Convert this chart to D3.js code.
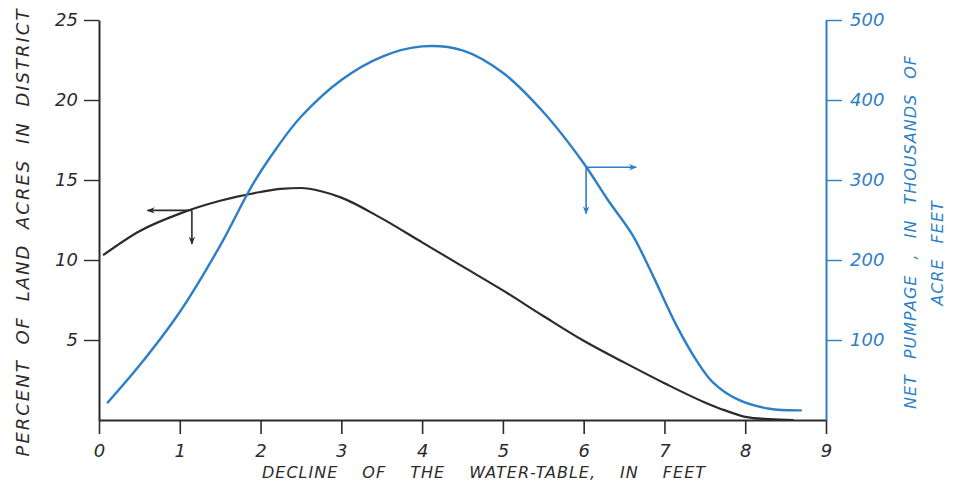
<!DOCTYPE html>
<html>
<head>
<meta charset="utf-8">
<script src="https://cdn.jsdelivr.net/npm/d3@7"></script>
<style>
  body { margin: 0; background: #fff; }
  svg { display: block; }
  text { font-family: "DejaVu Sans", sans-serif; font-style: italic; }
</style>
</head>
<body>
<div id="chartContainer"></div>
<script>
// decline of the water table, feet
const xTicks = [0, 1, 2, 3, 4, 5, 6, 7, 8, 9];
const leftTicks = [5, 10, 15, 20, 25];
const rightTicks = [100, 200, 300, 400, 500];

// percent of land acres in district (black curve)
const declineLand = [0.05, 0.5, 1, 1.5, 2, 2.25, 2.5, 2.75, 3, 3.5, 4, 4.5, 5, 5.5, 6, 6.5, 7, 7.5, 7.75, 8, 8.3, 8.6];
const percentLand = [10.3, 11.8, 12.9, 13.7, 14.25, 14.45, 14.5, 14.3, 13.9, 12.6, 11.1, 9.6, 8.1, 6.5, 4.95, 3.6, 2.3, 1.1, 0.6, 0.2, 0.05, 0];

// net pumpage, thousands of acre-feet (blue curve)
const declinePump = [0.1, 0.5, 1, 1.5, 1.9, 2.2, 2.5, 3, 3.5, 4, 4.5, 5, 5.5, 6, 6.3, 6.6, 6.85, 7.15, 7.4, 7.6, 7.9, 8.3, 8.7];
const pumpage = [21, 68, 135, 218, 294, 340, 379, 425, 454, 467, 462, 434, 385, 321, 275, 232, 182, 118, 74, 47, 26, 14, 12];

// annotation arrows: corner point, end of the sideways arm, end of the downward arm
const landArrow = { x: 1.15, v: 13.1, xEnd: 0.6, vEnd: 11.0 };
const pumpArrow = { x: 6.03, v: 316, xEnd: 6.65, vEnd: 258 };

const width = 961, height = 482;
const blue = '#2c7fc6';
const ink = '#2b2b2b';

const svg = d3.select('#chartContainer')
  .append('svg')
  .attr('width', width)
  .attr('height', height);

const defs = svg.append('defs');
[['headInk', ink], ['headBlue', blue]].forEach(([id, c]) => {
  defs.append('marker')
    .attr('id', id)
    .attr('viewBox', '0 0 10 10')
    .attr('refX', 9).attr('refY', 5)
    .attr('markerWidth', 10).attr('markerHeight', 8)
    .attr('markerUnits', 'userSpaceOnUse')
    .attr('orient', 'auto')
    .append('path')
    .attr('d', 'M0,1 L10,5 L0,9 L3,5 Z')
    .attr('fill', c);
});

const x = d3.scaleLinear().domain([0, 9]).range([99, 826]);
const yL = d3.scaleLinear().domain([0, 25]).range([420, 20]);
const yR = d3.scaleLinear().domain([0, 500]).range([420, 20]);

// X axis
const xAxis = svg.append('g')
  .attr('transform', 'translate(0,420)')
  .call(d3.axisBottom(x).tickValues(xTicks).tickSize(14).tickPadding(10).tickSizeOuter(0));
xAxis.select('.domain').attr('stroke', ink).attr('stroke-width', 2);
xAxis.selectAll('.tick line').attr('stroke', ink).attr('stroke-width', 1.6);
xAxis.selectAll('.tick text').attr('fill', ink).style('font-size', '18px');

// left axis
const lAxis = svg.append('g')
  .attr('transform', 'translate(99,0)')
  .call(d3.axisLeft(yL).tickValues(leftTicks).tickSize(15).tickPadding(6).tickSizeOuter(0));
lAxis.select('.domain').attr('stroke', ink).attr('stroke-width', 2);
lAxis.selectAll('.tick line').attr('stroke', ink).attr('stroke-width', 1.4);
lAxis.selectAll('.tick text').attr('fill', ink).style('font-size', '18px');

// right axis
const rAxis = svg.append('g')
  .attr('transform', 'translate(826,0)')
  .call(d3.axisRight(yR).tickValues(rightTicks).tickSize(16).tickPadding(8).tickSizeOuter(0));
rAxis.select('.domain').attr('stroke', blue).attr('stroke-width', 2);
rAxis.selectAll('.tick line').attr('stroke', blue).attr('stroke-width', 1.4);
rAxis.selectAll('.tick text').attr('fill', blue).style('font-size', '18px');

// curves
const landLine = d3.line()
  .x((d, i) => x(declineLand[i]))
  .y(d => yL(d))
  .curve(d3.curveMonotoneX);
svg.append('path')
  .attr('d', landLine(percentLand))
  .attr('fill', 'none')
  .attr('stroke', ink)
  .attr('stroke-width', 2.2);

const pumpLine = d3.line()
  .x((d, i) => x(declinePump[i]))
  .y(d => yR(d))
  .curve(d3.curveCatmullRom.alpha(0.5));
svg.append('path')
  .attr('d', pumpLine(pumpage))
  .attr('fill', 'none')
  .attr('stroke', blue)
  .attr('stroke-width', 2.4);

// arrows
function arrow(a, ys, color, marker) {
  svg.append('line')
    .attr('x1', x(a.x)).attr('y1', ys(a.v))
    .attr('x2', x(a.xEnd)).attr('y2', ys(a.v))
    .attr('stroke', color).attr('stroke-width', 1.6)
    .attr('marker-end', `url(#${marker})`);
  svg.append('line')
    .attr('x1', x(a.x)).attr('y1', ys(a.v))
    .attr('x2', x(a.x)).attr('y2', ys(a.vEnd))
    .attr('stroke', color).attr('stroke-width', 1.6)
    .attr('marker-end', `url(#${marker})`);
}
arrow(landArrow, yL, ink, 'headInk');
arrow(pumpArrow, yR, blue, 'headBlue');

// axis titles
svg.append('text')
  .attr('transform', 'translate(29,232) rotate(-90)')
  .attr('text-anchor', 'middle')
  .attr('fill', ink)
  .style('font-size', '18px')
  .style('letter-spacing', '2px')
  .style('word-spacing', '7px')
  .text('PERCENT OF LAND ACRES IN DISTRICT');

svg.append('text')
  .attr('x', 484).attr('y', 478)
  .attr('text-anchor', 'middle')
  .attr('fill', ink)
  .style('font-size', '16px')
  .style('letter-spacing', '1px')
  .style('word-spacing', '18px')
  .text('DECLINE OF THE WATER-TABLE, IN FEET');

svg.append('text')
  .attr('transform', 'translate(916,232) rotate(-90)')
  .attr('text-anchor', 'middle')
  .attr('fill', blue)
  .style('font-size', '16px')
  .style('letter-spacing', '1px')
  .style('word-spacing', '9px')
  .text('NET PUMPAGE , IN THOUSANDS OF');

svg.append('text')
  .attr('transform', 'translate(943,253) rotate(-90)')
  .attr('text-anchor', 'middle')
  .attr('fill', blue)
  .style('font-size', '16px')
  .style('letter-spacing', '1px')
  .style('word-spacing', '9px')
  .text('ACRE FEET');
</script>
</body>
</html>
